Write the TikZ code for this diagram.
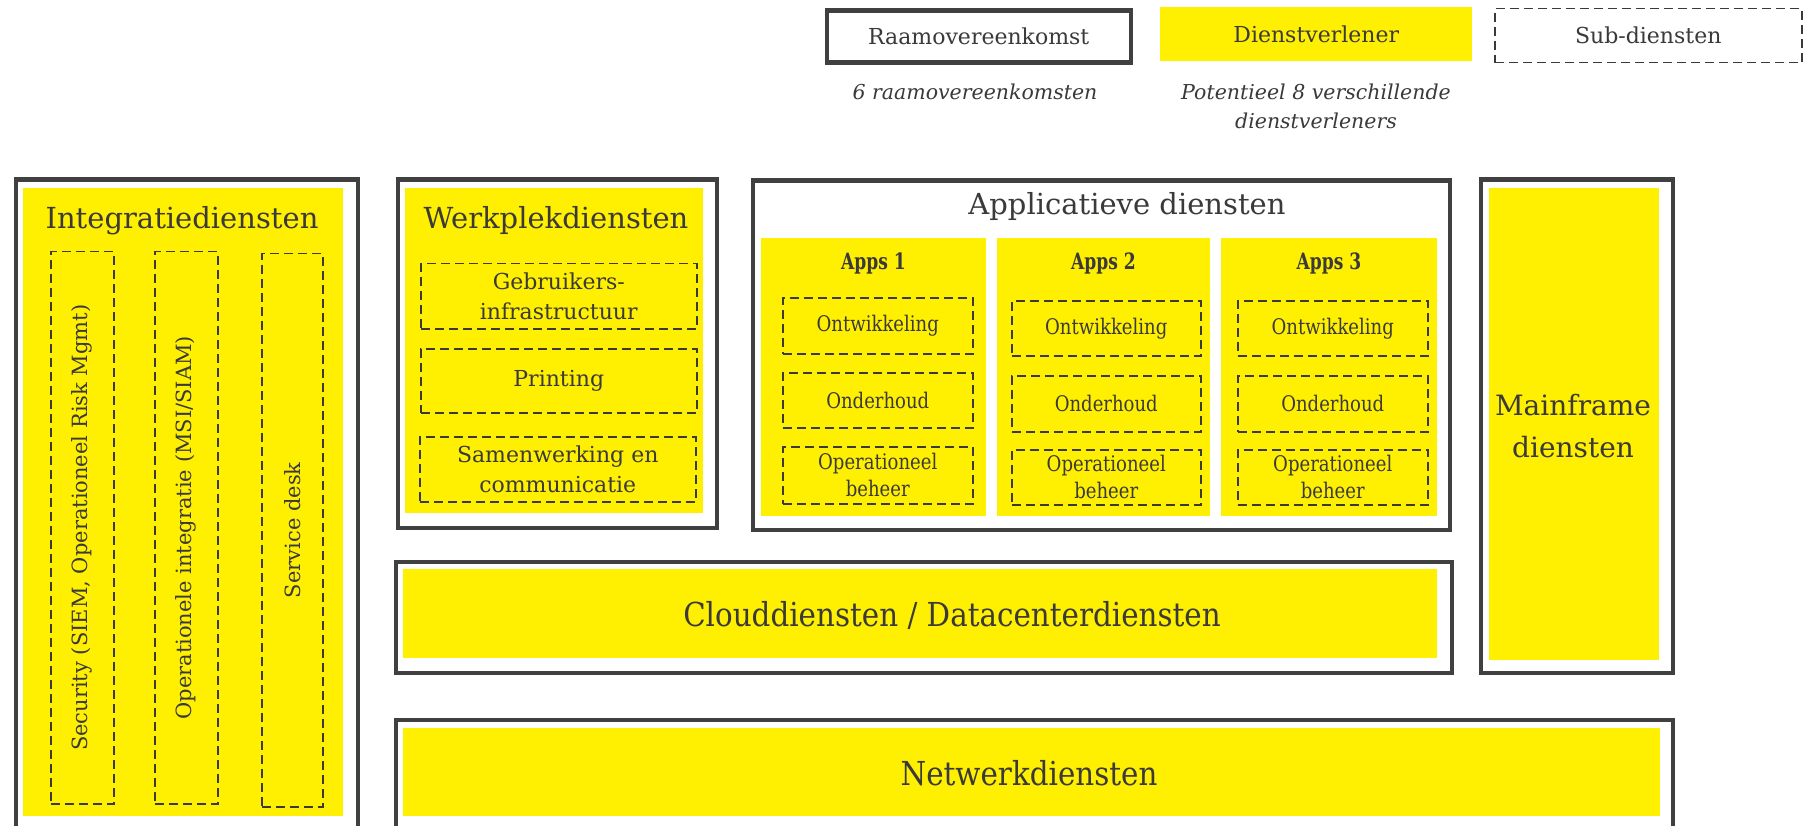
\documentclass[tikz,border=0pt]{standalone}
\usepackage{fontspec}
\setmainfont{DejaVu Serif}
\newfontfamily\condf[FakeStretch=0.84]{DejaVu Serif}
\newfontfamily\condg[FakeStretch=0.89]{DejaVu Serif}
\newfontfamily\condb[FakeStretch=0.76]{DejaVu Serif}
\definecolor{yel}{HTML}{FFEF00}
\definecolor{framec}{HTML}{404040}
\definecolor{txt}{HTML}{3A3A3A}
\tikzset{
  frame/.style={draw=framec, line width=4.5pt, inner sep=0pt, anchor=north west},
  ybox/.style={fill=yel, inner sep=0pt, anchor=north west},
  subbox/.style={draw=txt, line width=1.5pt, dash pattern=on 9pt off 5pt, inner sep=0pt, anchor=north west, align=center, text=txt},
  ttl/.style={text=txt, inner sep=0pt, font=\fontsize{29}{34}\selectfont},
  subtxt/.style={font=\fontsize{22}{30}\selectfont},
  apptxt/.style={font=\condf\fontsize{21.5}{27}\selectfont},
  vtxt/.style={text=txt, inner sep=0pt, rotate=90, font=\fontsize{21}{26}\selectfont},
  legtxt/.style={text=txt, inner sep=0pt, font=\fontsize{22}{26}\selectfont},
  itxt/.style={text=txt, inner sep=0pt, align=center, font=\itshape\fontsize{20.5}{29}\selectfont},
  apptl/.style={text=txt, inner sep=0pt, font=\condb\bfseries\fontsize{22.5}{26}\selectfont},
  bigtxt/.style={text=txt, inner sep=0pt, font=\condg\fontsize{33}{38}\selectfont},
}
\begin{document}
\begin{tikzpicture}[x=1pt,y=-1pt]
\useasboundingbox (0,0) rectangle (1803,826);
\clip (0,0) rectangle (1803,826);
\fill[white] (0,0) rectangle (1803,826);

% legend
\node[frame, minimum width=304pt, minimum height=52pt] (legR) at (824.5,8.5) {};
\node[legtxt] (legRt) at (legR.center) {Raamovereenkomst};
\node[ybox, minimum width=312pt, minimum height=54pt] (legD) at (1160,7) {};
\node[legtxt] (legDt) at (legD.center) {Dienstverlener};
\node[subbox, minimum width=307pt, minimum height=54pt] (legS) at (1494,8) {};
\node[legtxt] (legSt) at (legS.center) {Sub-diensten};
\node[itxt] (legRi) at (975,92) {6 raamovereenkomsten};
\node[itxt] (legDi) at (1316,106) {Potentieel 8 verschillende\\dienstverleners};

% Integratiediensten
\node[frame, minimum width=342pt, minimum height=680pt] (intF) at (13.5,177.5) {};
\node[ybox, minimum width=320pt, minimum height=628pt] (intY) at (23,188) {};
\node[ttl, anchor=base] (intT) at (182,229) {Integratiediensten};
\node[subbox, minimum width=63pt, minimum height=552pt] (col1) at (50,251) {};
\node[subbox, minimum width=63pt, minimum height=552pt] (col2) at (154,251) {};
\node[subbox, minimum width=61pt, minimum height=553pt] (col3) at (261,253) {};
\node[vtxt] (col1t) at (col1.center) {Security (SIEM, Operationeel Risk Mgmt)};
\node[vtxt] (col2t) at (col2.center) {Operationele integratie (MSI/SIAM)};
\node[vtxt] (col3t) at (col3.center) {Service desk};

% Werkplekdiensten
\node[frame, minimum width=319pt, minimum height=348pt] (werkF) at (395.5,177.5) {};
\node[ybox, minimum width=298pt, minimum height=325pt] (werkY) at (405,188) {};
\node[ttl, anchor=base] (werkT) at (556,229) {Werkplekdiensten};
\node[subbox, subtxt, minimum width=276pt, minimum height=65pt] (ws1) at (420,263) {Gebruikers-\\infrastructuur};
\node[subbox, subtxt, minimum width=276pt, minimum height=64pt] (ws2) at (420,348) {Printing};
\node[subbox, subtxt, minimum width=276pt, minimum height=65pt] (ws3) at (419,436) {Samenwerking en\\communicatie};

% Applicatieve diensten
\node[frame, minimum width=697pt, minimum height=349pt] (appF) at (750.5,178.5) {};
\node[ttl] (appT) at (1127,207) {Applicatieve diensten};
\node[ybox, minimum width=225pt, minimum height=278pt] (a1Y) at (761,238) {};
\node[ybox, minimum width=213pt, minimum height=278pt] (a2Y) at (997,238) {};
\node[ybox, minimum width=216pt, minimum height=278pt] (a3Y) at (1221,238) {};
\node[apptl] (a1T) at (873.5,263) {Apps 1};
\node[apptl] (a2T) at (1103.5,263) {Apps 2};
\node[apptl] (a3T) at (1329,263) {Apps 3};
\node[subbox, apptxt, minimum width=190pt, minimum height=56pt] (a1s1) at (782,297) {Ontwikkeling};
\node[subbox, apptxt, minimum width=190pt, minimum height=55pt] (a1s2) at (782,372) {Onderhoud};
\node[subbox, apptxt, minimum width=190pt, minimum height=57pt] (a1s3) at (782,446) {Operationeel\\beheer};
\node[subbox, apptxt, minimum width=189pt, minimum height=55pt] (a2s1) at (1011,300) {Ontwikkeling};
\node[subbox, apptxt, minimum width=189pt, minimum height=56pt] (a2s2) at (1011,375) {Onderhoud};
\node[subbox, apptxt, minimum width=189pt, minimum height=55pt] (a2s3) at (1011,449) {Operationeel\\beheer};
\node[subbox, apptxt, minimum width=190pt, minimum height=55pt] (a3s1) at (1237,300) {Ontwikkeling};
\node[subbox, apptxt, minimum width=190pt, minimum height=56pt] (a3s2) at (1237,375) {Onderhoud};
\node[subbox, apptxt, minimum width=190pt, minimum height=55pt] (a3s3) at (1237,449) {Operationeel\\beheer};

% Mainframe
\node[frame, minimum width=192pt, minimum height=493pt] (mainF) at (1478.5,177.5) {};
\node[ybox, minimum width=170pt, minimum height=472pt] (mainY) at (1489,188) {};
\node[ttl, align=center, font=\fontsize{28}{42}\selectfont] (mainT) at (1573,426) {Mainframe\\diensten};

% Cloud
\node[frame, minimum width=1056pt, minimum height=111pt] (cloudF) at (393.5,559.5) {};
\node[ybox, minimum width=1034pt, minimum height=89pt] (cloudY) at (403,569) {};
\node[bigtxt] (cloudT) at (952,615) {Clouddiensten / Datacenterdiensten};

% Netwerk
\node[frame, minimum width=1277pt, minimum height=140pt] (netF) at (393.5,717.5) {};
\node[ybox, minimum width=1257pt, minimum height=88pt] (netY) at (403,728) {};
\node[bigtxt] (netT) at (1029,773) {Netwerkdiensten};
\end{tikzpicture}
\end{document}
